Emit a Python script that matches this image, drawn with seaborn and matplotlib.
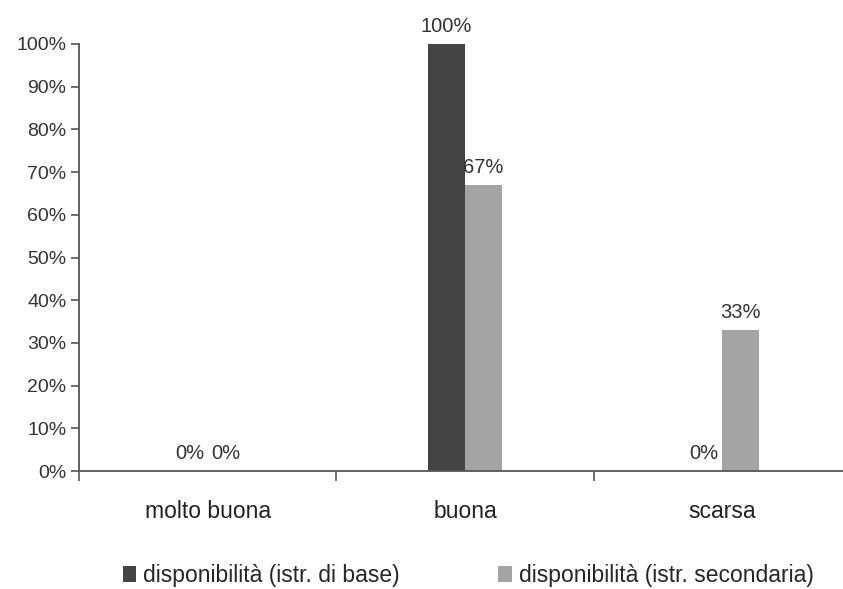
import matplotlib
matplotlib.use("Agg")
import matplotlib.pyplot as plt
import pandas as pd
import seaborn as sns
from matplotlib.ticker import FixedLocator, PercentFormatter

# Data
categories = ["molto buona", "buona", "scarsa"]
series = ["disponibilità (istr. di base)", "disponibilità (istr. secondaria)"]
base_values = [0.0, 1.0, 0.0]
secondary_values = [0.0, 0.67, 0.33]

df = pd.DataFrame({
    "categoria": categories * 2,
    "serie": [series[0]] * 3 + [series[1]] * 3,
    "valore": base_values + secondary_values,
})

sns.set_theme(style="white")
plt.rcParams["font.family"] = ["Liberation Sans", "DejaVu Sans"]

fig = plt.figure(figsize=(8.43, 5.89), dpi=100)
ax = fig.add_axes([0.0943, 0.2003, 0.9146, 0.7250])

sns.barplot(data=df, x="categoria", y="valore", hue="serie",
            order=categories, hue_order=series,
            palette=["#444444", "#a4a4a4"], width=0.285,
            saturation=1, linewidth=0, ax=ax)

for cont in ax.containers:
    ax.bar_label(cont, fmt=lambda v: f"{v:.0%}", padding=5.5,
                 fontsize=14.5, color="#333333")

ax.set_xlim(-0.5, 2.5)
ax.set_ylim(0, 1)
ax.set_xlabel("")
ax.set_ylabel("")
ax.yaxis.set_major_locator(FixedLocator([i / 10 for i in range(11)]))
ax.yaxis.set_major_formatter(PercentFormatter(1.0, decimals=0))
ax.tick_params(axis="y", length=6, width=1.2, color="#555555",
               labelsize=14, labelcolor="#333333", direction="out", left=True)
ax.tick_params(axis="x", which="major", length=0, pad=21,
               labelsize=16.5, labelcolor="#222222")
ax.xaxis.set_minor_locator(FixedLocator([-0.5, 0.5, 1.5]))
ax.tick_params(axis="x", which="minor", length=7, width=1.2,
               color="#555555", direction="out", bottom=True)

for side in ["top", "right"]:
    ax.spines[side].set_visible(False)
for side in ["left", "bottom"]:
    ax.spines[side].set_color("#555555")
    ax.spines[side].set_linewidth(1.3)

ax.legend(loc="center left", bbox_to_anchor=(0.035, -0.245), ncol=2,
          frameon=False, fontsize=16.5, handlelength=0.6, handleheight=0.7,
          handletextpad=0.3, columnspacing=4.3, borderpad=0.2)

fig.savefig("out.png", dpi=100)
